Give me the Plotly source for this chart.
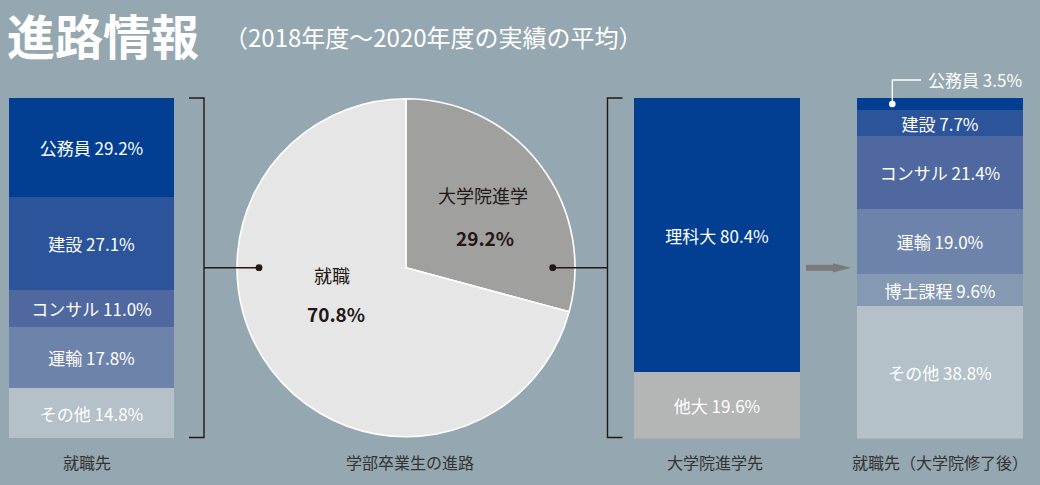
import plotly.graph_objects as go

# ---------------- data ----------------
job_cats = ["公務員", "建設", "コンサル", "運輸", "その他"]
job_vals = [29.2, 27.1, 11.0, 17.8, 14.8]

pie_labels = ["大学院進学", "就職"]
pie_vals = [29.2, 70.8]

grad_cats = ["理科大", "他大"]
grad_vals = [80.4, 19.6]

post_cats = ["公務員", "建設", "コンサル", "運輸", "博士課程", "その他"]
post_vals = [3.5, 7.7, 21.4, 19.0, 9.6, 38.8]

panel_titles = ["就職先", "学部卒業生の進路", "大学院進学先", "就職先（大学院修了後）"]
title_text = "進路情報"
subtitle_text = "（2018年度～2020年度の実績の平均）"

# ---------------- style ----------------
W, H = 1040, 485
BG = "#95a7b0"
DARK = "#231815"
FONT = "Noto Sans CJK JP"
job_colors = ["#023f93", "#2c549a", "#4f68a0", "#6e83ab", "#b4c1c9"]
grad_colors = ["#023f93", "#b4b5b5"]
post_colors = ["#023f93", "#2c549a", "#4f68a0", "#6e83ab", "#8599b3", "#b4c1c9"]
pie_colors = ["#a0a19f", "#e6e6e6"]
BAR_FS = 17


def px(x):
    return x / W


def py(y):
    return 1 - y / H


fig = go.Figure()


def add_stack(cats, vals, colors, axis, hide_first=False):
    for i, (c, v, col) in enumerate(zip(cats, vals, colors)):
        txt = f"{c} {v:.1f}%"
        if hide_first and i == 0:
            txt = ""
        fig.add_trace(go.Bar(
            x=[0], y=[v], name=c, width=[1],
            marker=dict(color=col, line=dict(width=0)),
            text=[txt], textposition="inside", insidetextanchor="middle",
            textangle=0, textfont=dict(color="white", size=BAR_FS, family=FONT),
            xaxis="x" + axis if axis != "1" else "x",
            yaxis="y" + axis if axis != "1" else "y",
            showlegend=False, hoverinfo="skip",
        ))


add_stack(job_cats, job_vals, job_colors, "1")
add_stack(grad_cats, grad_vals, grad_colors, "2")
add_stack(post_cats, post_vals, post_colors, "3", hide_first=True)

# pie
cx, cy, r = 406, 267.7, 169
fig.add_trace(go.Pie(
    labels=pie_labels, values=pie_vals, sort=False, direction="clockwise", rotation=0,
    marker=dict(colors=pie_colors, line=dict(color="white", width=1.6)),
    textinfo="none", hoverinfo="skip", showlegend=False,
    domain=dict(x=[px(cx - r), px(cx + r)], y=[py(cy + r), py(cy - r)]),
))

ytop, ybot = 98, 438.6
axis_common = dict(visible=False, fixedrange=True)
layout = dict(
    width=W, height=H, margin=dict(l=0, r=0, t=0, b=0),
    paper_bgcolor=BG, plot_bgcolor=BG,
    barmode="stack", bargap=0,
    uniformtext=dict(minsize=BAR_FS, mode="show"),
    xaxis=dict(domain=[px(9), px(174)], range=[-0.5, 0.5], **axis_common),
    yaxis=dict(domain=[py(ybot), py(ytop)], range=[100, 0], **axis_common),
    xaxis2=dict(domain=[px(634), px(800)], range=[-0.5, 0.5], **axis_common),
    yaxis2=dict(domain=[py(ybot), py(ytop)], range=[100, 0], **axis_common),
    xaxis3=dict(domain=[px(857), px(1023)], range=[-0.5, 0.5], **axis_common),
    yaxis3=dict(domain=[py(ybot), py(ytop)], range=[100, 0], **axis_common),
)
fig.update_layout(**layout)

shapes = []
LW = 1.4
# left bracket
shapes.append(dict(type="path", xref="paper", yref="paper",
                   path=f"M{px(189)},{py(98)} L{px(204)},{py(98)} L{px(204)},{py(437.5)} L{px(189)},{py(437.5)}",
                   line=dict(color=DARK, width=LW)))
shapes.append(dict(type="line", xref="paper", yref="paper",
                   x0=px(204), x1=px(259), y0=py(cy), y1=py(cy), line=dict(color=DARK, width=LW)))
# right bracket
shapes.append(dict(type="path", xref="paper", yref="paper",
                   path=f"M{px(622.5)},{py(98)} L{px(607.5)},{py(98)} L{px(607.5)},{py(437.5)} L{px(622.5)},{py(437.5)}",
                   line=dict(color=DARK, width=LW)))
shapes.append(dict(type="line", xref="paper", yref="paper",
                   x0=px(552.7), x1=px(607.5), y0=py(cy), y1=py(cy), line=dict(color=DARK, width=LW)))
# dots on pie
for dx in (259, 552.7):
    shapes.append(dict(type="circle", xref="paper", yref="paper",
                       x0=px(dx - 3.4), x1=px(dx + 3.4), y0=py(cy + 3.4), y1=py(cy - 3.4),
                       fillcolor=DARK, line=dict(width=0)))
# arrow
shapes.append(dict(type="rect", xref="paper", yref="paper",
                   x0=px(806), x1=px(834), y0=py(270.8), y1=py(264.8),
                   fillcolor="#7a7a7a", line=dict(width=0)))
shapes.append(dict(type="path", xref="paper", yref="paper",
                   path=f"M{px(833)},{py(263.2)} L{px(851)},{py(267.8)} L{px(833)},{py(272.6)} Z",
                   fillcolor="#7a7a7a", line=dict(width=0)))
# callout for small 公務員 segment in last bar
shapes.append(dict(type="path", xref="paper", yref="paper",
                   path=f"M{px(892.3)},{py(103.3)} L{px(892.3)},{py(80)} L{px(921)},{py(80)}",
                   line=dict(color="white", width=1.3)))
shapes.append(dict(type="circle", xref="x3", yref="y3",
                   xsizemode="pixel", ysizemode="pixel",
                   xanchor=-0.5 + (892.3 - 857) / 166, yanchor=post_vals[0] / 2,
                   x0=-3.3, x1=3.3, y0=-3.3, y1=3.3,
                   fillcolor="white", line=dict(width=0)))
fig.update_layout(shapes=shapes)


def text_ann(text, x, y, size, color, anchor="center", weight="normal"):
    return dict(text=text, x=px(x), y=py(y), xref="paper", yref="paper",
                xanchor=anchor, yanchor="middle", showarrow=False,
                font=dict(family=FONT, size=size, color=color, weight=weight))


ann = []
ann.append(text_ann(title_text, 5, 34, 48, "white", "left", "bold"))
ann.append(text_ann(subtitle_text, 222, 37, 24, "white", "left"))
# pie labels
ann.append(text_ann(pie_labels[0], 482.5, 194.5, 18, DARK))
ann.append(text_ann(f"{pie_vals[0]:.1f}%", 485, 237, 19, DARK, weight="bold"))
ann.append(text_ann(pie_labels[1], 332, 274.5, 18, DARK))
ann.append(text_ann(f"{pie_vals[1]:.1f}%", 336, 313, 19, DARK, weight="bold"))
# callout text
ann.append(text_ann(f"{post_cats[0]} {post_vals[0]:.1f}%", 926, 80, BAR_FS, "white", "left"))
# panel titles
for t, xc in zip(panel_titles, (87, 409.5, 714.5, 940)):
    ann.append(text_ann(t, xc, 461.5, 16, "#333333"))
fig.update_layout(annotations=ann)

fig.write_html(
    "out.html",
    config={"displayModeBar": False},
    post_script="document.body.style.margin='0';document.body.style.overflow='hidden';",
)
